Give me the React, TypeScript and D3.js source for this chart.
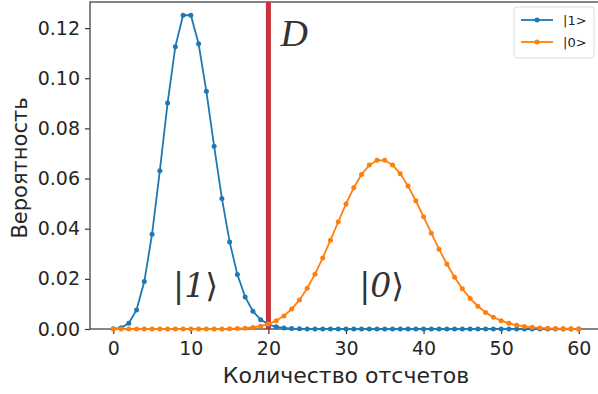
import React, { useEffect, useRef } from 'react';
import * as d3 from 'd3';

// counts 0..60
const counts: number[] = d3.range(0, 61);

// |1> distribution
const probOne: number[] = [
  0.00005, 0.00045, 0.00227, 0.00757, 0.01892, 0.03783, 0.06306, 0.09008, 0.1126, 0.12511,
  0.12511, 0.11374, 0.09478, 0.07291, 0.05208, 0.03472, 0.0217, 0.01276, 0.00709, 0.00373,
  0.00187, 0.00089, 0.0004, 0.00018, 0.00007, 0.00003, 0.00001, 0, 0, 0,
  0, 0, 0, 0, 0, 0, 0, 0, 0, 0,
  0, 0, 0, 0, 0, 0, 0, 0, 0, 0,
  0, 0, 0, 0, 0, 0, 0, 0, 0, 0,
  0,
];

// |0> distribution
const probZero: number[] = [
  0, 0, 0, 0, 0, 0, 0, 0, 0, 0,
  0, 0, 0, 0.00001, 0.00003, 0.00007, 0.00016, 0.00031, 0.00061, 0.00113,
  0.00197, 0.00329, 0.00523, 0.00796, 0.01161, 0.01625, 0.02187, 0.02835, 0.03543, 0.04276,
  0.04989, 0.05633, 0.06161, 0.06535, 0.06727, 0.06727, 0.0654, 0.06187, 0.05698, 0.05114,
  0.04475, 0.0382, 0.03183, 0.02591, 0.02061, 0.01603, 0.0122, 0.00908, 0.00662, 0.00473,
  0.00331, 0.00227, 0.00153, 0.00101, 0.00065, 0.00042, 0.00026, 0.00016, 0.0001, 0.00006,
  0.00003,
];

const xTicks = [0, 10, 20, 30, 40, 50, 60];
const yTicks = [0, 0.02, 0.04, 0.06, 0.08, 0.1, 0.12];
const threshold = 20;

const App = () => {
  const svgRef = useRef<SVGSVGElement>(null);

  useEffect(() => {
    const svg = d3.select(svgRef.current);
    svg.selectAll('*').remove();

    const width = 598;
    const height = 394;
    const plot = { left: 90, top: 2, right: 602, bottom: 329 };

    const x = d3.scaleLinear().domain([-3, 63]).range([plot.left, plot.right]);
    const y = d3.scaleLinear().domain([0, 0.1304]).range([plot.bottom, plot.top]);

    svg.append('rect').attr('width', width).attr('height', height).attr('fill', '#fff');

    const font = "'DejaVu Sans', sans-serif";
    const ink = '#262626';

    // axes
    const xAxis = svg
      .append('g')
      .attr('transform', `translate(0,${plot.bottom})`)
      .call(d3.axisBottom(x).tickValues(xTicks).tickFormat(d3.format('d')).tickSize(5).tickSizeOuter(0));
    xAxis.select('.domain').remove();
    xAxis.selectAll('line').attr('stroke', '#333').attr('stroke-width', 1.2);
    xAxis
      .selectAll('text')
      .attr('font-family', font)
      .attr('font-size', 19)
      .attr('fill', ink)
      .attr('y', 26)
      .attr('dy', null);

    const yAxis = svg
      .append('g')
      .attr('transform', `translate(${plot.left},0)`)
      .call(d3.axisLeft(y).tickValues(yTicks).tickFormat(d3.format('.2f')).tickSize(5).tickSizeOuter(0));
    yAxis.select('.domain').remove();
    yAxis.selectAll('line').attr('stroke', '#333').attr('stroke-width', 1.2);
    yAxis
      .selectAll('text')
      .attr('font-family', font)
      .attr('font-size', 19)
      .attr('fill', ink)
      .attr('x', -10);

    // frame
    svg
      .append('rect')
      .attr('x', plot.left)
      .attr('y', plot.top)
      .attr('width', plot.right - plot.left)
      .attr('height', plot.bottom - plot.top)
      .attr('fill', 'none')
      .attr('stroke', '#444')
      .attr('stroke-width', 1.3);

    // threshold line
    svg
      .append('line')
      .attr('x1', x(threshold))
      .attr('x2', x(threshold))
      .attr('y1', plot.top)
      .attr('y2', plot.bottom)
      .attr('stroke', '#c8323c')
      .attr('stroke-width', 5);

    const series = [
      { name: '|1>', values: probOne, color: '#1f77b4' },
      { name: '|0>', values: probZero, color: '#ff7f0e' },
    ];

    const line = d3
      .line<number>()
      .x((_, i) => x(counts[i]))
      .y(d => y(d));

    series.forEach(s => {
      svg
        .append('path')
        .datum(s.values)
        .attr('fill', 'none')
        .attr('stroke', s.color)
        .attr('stroke-width', 1.8)
        .attr('d', line);
      svg
        .append('g')
        .selectAll('circle')
        .data(s.values)
        .enter()
        .append('circle')
        .attr('cx', (_, i) => x(counts[i]))
        .attr('cy', d => y(d))
        .attr('r', 2.5)
        .attr('fill', s.color);
    });

    // annotations
    const serif = "'DejaVu Serif', 'Liberation Serif', serif";
    svg
      .append('text')
      .attr('x', x(threshold) + 12)
      .attr('y', 46)
      .attr('font-family', "'Liberation Serif', serif")
      .attr('font-style', 'italic')
      .attr('font-size', 38)
      .attr('fill', '#333')
      .text('D');

    const ket = (label: string, cx: number) => {
      const t = svg
        .append('text')
        .attr('x', cx)
        .attr('y', 297)
        .attr('text-anchor', 'middle')
        .attr('font-family', serif)
        .attr('font-size', 33)
        .attr('fill', '#333');
      t.append('tspan').attr('font-weight', 200).text('|');
      t.append('tspan').attr('font-style', 'italic').text(label);
      t.append('tspan').text('⟩');
    };
    ket('1', x(10.6));
    ket('0', x(34.6));

    // axis labels
    svg
      .append('text')
      .attr('x', 346)
      .attr('y', 383)
      .attr('text-anchor', 'middle')
      .attr('font-family', font)
      .attr('font-size', 22)
      .attr('fill', ink)
      .text('Количество отсчетов');

    svg
      .append('text')
      .attr('transform', `translate(27,168) rotate(-90)`)
      .attr('text-anchor', 'middle')
      .attr('font-family', font)
      .attr('font-size', 21)
      .attr('fill', ink)
      .text('Вероятность');

    // legend
    const legend = svg.append('g').attr('transform', 'translate(514,7)');
    legend
      .append('rect')
      .attr('width', 80)
      .attr('height', 51)
      .attr('rx', 3)
      .attr('fill', '#fff')
      .attr('stroke', '#ddd');
    series.forEach((s, i) => {
      const row = legend.append('g').attr('transform', `translate(0,${13 + i * 22})`);
      row.append('line').attr('x1', 7).attr('x2', 39).attr('stroke', s.color).attr('stroke-width', 1.8);
      row.append('circle').attr('cx', 23).attr('r', 2.5).attr('fill', s.color);
      row
        .append('text')
        .attr('x', 49)
        .attr('dy', '0.35em')
        .attr('font-family', font)
        .attr('font-size', 13)
        .attr('fill', ink)
        .text(s.name);
    });
  }, []);

  return (
    <svg
      ref={svgRef}
      width={598}
      height={394}
      style={{ position: 'absolute', left: 0, top: 0 }}
    ></svg>
  );
};

export default App;
